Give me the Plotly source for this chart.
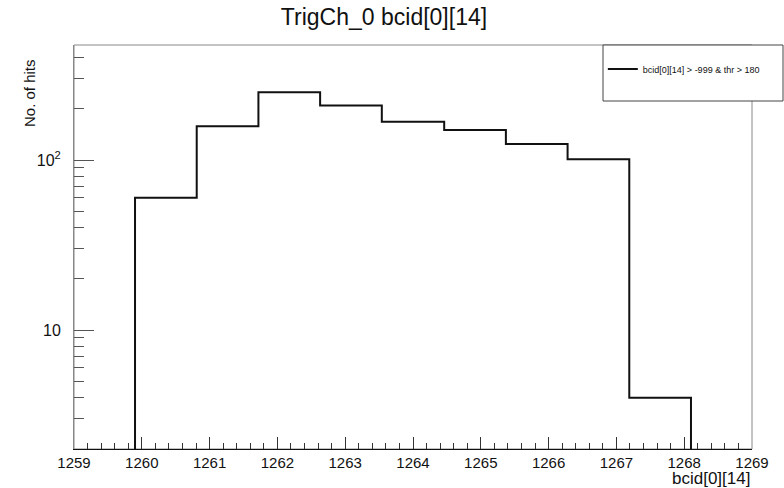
import plotly.graph_objects as go

# Data
bin_edges = [1259.9, 1260.81, 1261.72, 1262.63, 1263.54, 1264.46, 1265.37, 1266.28, 1267.19, 1268.1]
counts = [60, 158, 250, 209, 168, 150, 124, 101, 4]
title = "TrigCh_0 bcid[0][14]"
x_title = "bcid[0][14]"
y_title = "No. of hits"
legend_label = "bcid[0][14] > -999 &amp; thr > 180"
y_tickvals = [10, 100]
y_ticktext = ["10", "10<sup>2</sup>"]
x_tickvals = list(range(1259, 1270))

# Build step outline (starts/ends below the visible range so it drops to the axis)
floor_val = 1
xs = [bin_edges[0]] + bin_edges[:-1] + [bin_edges[-1], bin_edges[-1]]
ys = [floor_val] + counts + [counts[-1], floor_val]

FONT = "Liberation Sans, Arial, Helvetica, sans-serif"

fig = go.Figure()
fig.add_trace(go.Scatter(
    x=xs, y=ys, mode="lines", line=dict(shape="hv", color="#111111", width=2),
    name=legend_label, showlegend=True,
))

fig.update_layout(
    width=784, height=488,
    margin=dict(l=74, r=32, t=45, b=39),
    paper_bgcolor="white", plot_bgcolor="white",
    font=dict(family=FONT, size=15, color="#111111"),
    title=dict(text=title, x=384/784, xanchor="center", y=1-17/488, yanchor="middle",
               font=dict(size=23, family=FONT, color="#111111")),
    showlegend=True,
    legend=dict(x=0.78, xanchor="left", y=(449-69)/404, yanchor="middle",
                bgcolor="rgba(0,0,0,0)", borderwidth=0,
                font=dict(size=9, family=FONT, color="#111111"),
                itemwidth=30),
    xaxis=dict(
        range=[1259, 1269], showgrid=False, zeroline=False,
        showline=True, linecolor="#111111", linewidth=1,
        tickvals=x_tickvals, ticks="inside", ticklen=12, tickcolor="#333333",
        tickfont=dict(size=15, family=FONT, color="#111111"),
        minor=dict(dtick=0.2, ticks="inside", ticklen=6, tickcolor="#333333", showgrid=False),
    ),
    yaxis=dict(
        type="log", range=[0.3, 2.6765], showgrid=False, zeroline=False,
        showline=True, linecolor="#888888", linewidth=1,
        tickvals=y_tickvals, ticktext=y_ticktext,
        ticks="inside", ticklen=20, tickcolor="#555555",
        ticklabelstandoff=9,
        tickfont=dict(size=16, family=FONT, color="#111111"),
        minor=dict(dtick="D1", ticks="inside", ticklen=10, tickcolor="#555555", showgrid=False),
    ),
)

# Frame (top/right)
fig.add_shape(type="rect", xref="paper", yref="paper", x0=0, x1=1, y0=0, y1=1,
              line=dict(color="#888888", width=1), fillcolor="rgba(0,0,0,0)", layer="below")
# Legend box
fig.add_shape(type="rect", xref="paper", yref="paper",
              x0=(603-74)/678, x1=(783-74)/678, y0=(449-101)/404, y1=1,
              line=dict(color="#444444", width=1), fillcolor="white", layer="below")

# Axis titles (ROOT style: right/top aligned)
fig.add_annotation(text=x_title, xref="paper", yref="paper", x=1, xanchor="right",
                   y=(449-478)/404, yanchor="middle", showarrow=False,
                   font=dict(size=17, family=FONT, color="#111111"))
fig.add_annotation(text=y_title, xref="paper", yref="paper", x=(29-74)/678, xanchor="center",
                   y=1, yanchor="top", yshift=-12, textangle=-90, showarrow=False,
                   font=dict(size=15, family=FONT, color="#111111"))

fig.write_html("out.html", config={"displayModeBar": False},
               post_script="document.body.style.margin='0';document.body.style.overflow='hidden';")
